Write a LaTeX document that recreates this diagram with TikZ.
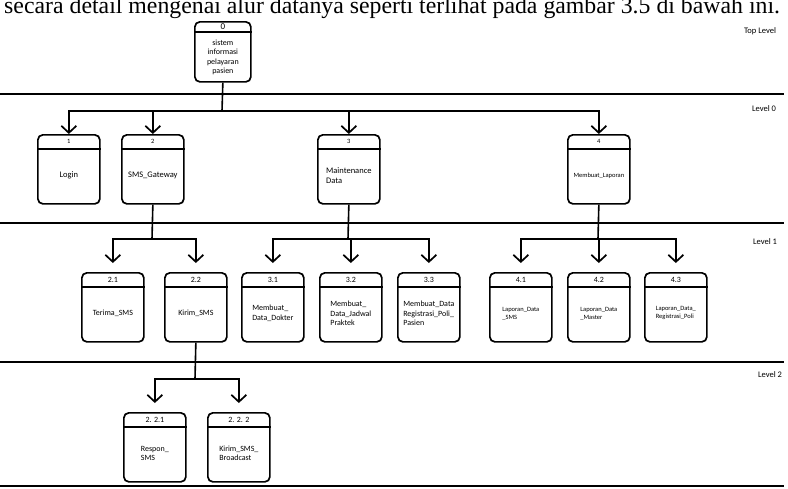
\documentclass[tikz,border=0pt]{standalone}
\usepackage{fontspec}
\setsansfont{Carlito}
\newfontfamily\serifteks{Liberation Serif}
\usetikzlibrary{arrows.meta}
\usetikzlibrary{positioning}

\tikzset{
  kotak/.style={draw, rounded corners=5pt, line width=1.7pt, minimum width=62pt,
    minimum height=69pt, anchor=north west, inner sep=0pt},
  garis/.style={line width=1.6pt},
  panah/.style={line width=1.7pt, -{Straight Barb[length=7pt,width=15pt]}},
  batas/.style={line width=2.4pt},
  nomor/.style={font={\sffamily\fontsize{8}{8}\selectfont}, inner sep=0pt},
  isi/.style={font={\sffamily\fontsize{8}{9.5}\selectfont}, align=left, inner sep=0pt},
  tingkat/.style={font={\sffamily\fontsize{8.5}{9}\selectfont}, inner sep=0pt},
}

% kotak proses: [opsi isi] nama, pojok kiri atas, nomor, isi
\newcommand{\proses}[5][]{%
  \node[kotak] (#2) at (#3) {};
  \draw[garis] ([yshift=-15pt]#2.north west) -- ([yshift=-15pt]#2.north east);
  \node[nomor] (#2no) at ([yshift=-7.5pt]#2.north) {#4};
  \node[isi,#1] (#2isi) at ([yshift=-6pt]#2.center) {#5};
}

\begin{document}
\begin{tikzpicture}[x=1pt,y=-1pt]
  \useasboundingbox (0,0) rectangle (788,488);
  \clip (0,0) rectangle (788,488);

  \node[anchor=base west, inner sep=0pt] (judul) at (4,13)
    {\serifteks\fontsize{23.8}{24}\selectfont secara detail mengenai alur datanya seperti terlihat pada gambar 3.5 di bawah ini.};

  % garis batas tiap level
  \foreach \y in {94,223,362,486}
    \draw[batas] (0,\y) -- (784,\y);

  \node[tingkat] (toplevel) at (760,31) {Top Level};
  \node[tingkat] (level0) at (764,109) {Level 0};
  \node[tingkat] (level1) at (765,242) {Level 1};
  \node[tingkat] (level2) at (770,375) {Level 2};

  % top level
  \node[kotak, minimum width=56pt, minimum height=60pt] (p0) at (194,21) {};
  \draw[garis] ([yshift=-11pt]p0.north west) -- ([yshift=-11pt]p0.north east);
  \node[nomor, font={\sffamily\fontsize{9}{9}\selectfont}] (p0no) at ([yshift=-5.5pt]p0.north) {0};
  \node[isi, align=center, font={\sffamily\fontsize{8}{9.5}\selectfont}] (p0isi) at ([yshift=-5.5pt]p0.center)
    {sistem\\informasi\\pelayaran\\pasien};

  % level 0
  \proses[font={\sffamily\fontsize{8.5}{10}\selectfont}]{p1}{37,134}{\fontsize{6.5}{6.5}\selectfont 1}{Login}
  \proses[font={\sffamily\fontsize{8.5}{10}\selectfont}]{p2}{121,134}{\fontsize{6.5}{6.5}\selectfont 2}{SMS\_Gateway}
  \proses[font={\sffamily\fontsize{8.5}{10}\selectfont}]{p3}{317,134}{\fontsize{6.5}{6.5}\selectfont 3}{Maintenance\\Data}
  \proses[font={\sffamily\fontsize{6.5}{8}\selectfont}]{p4}{567,134}{\fontsize{6.5}{6.5}\selectfont 4}{Membuat\_Laporan}

  % level 1
  \proses{p21}{81,272}{2.1}{Terima\_SMS}
  \proses{p22}{164,272}{2.2}{Kirim\_SMS}
  \proses{p31}{241,272}{3.1}{Membuat\_\\Data\_Dokter}
  \proses{p32}{319,272}{3.2}{Membuat\_\\Data\_Jadwal\\Praktek}
  \proses{p33}{397,272}{3.3}{Membuat\_Data\\Registrasi\_Poli\_\\Pasien}
  \proses[font={\sffamily\fontsize{6.5}{8}\selectfont}]{p41}{489,272}{4.1}{Laporan\_Data\\\_SMS}
  \proses[font={\sffamily\fontsize{6.5}{8}\selectfont}]{p42}{567,272}{4.2}{Laporan\_Data\\\_Master}
  \proses[font={\sffamily\fontsize{6.5}{8}\selectfont}]{p43}{644,272}{4.3}{Laporan\_Data\_\\Registrasi\_Poli}

  % level 2
  \proses{p221}{123,412}{2. 2.1}{Respon\_\\SMS}
  \proses{p222}{207,412}{2. 2. 2}{Kirim\_SMS\_\\Broadcast}

  % aliran antar level
  \coordinate (c0) at (222,111);
  \draw[garis] (p0.south) -- (c0);
  \foreach \n in {p1,p2,p3,p4}
    \draw[panah] (c0) -| (\n.north);

  \coordinate (c2) at (152,239);
  \draw[garis] (p2.south) -- (c2);
  \foreach \n in {p21,p22}
    \draw[panah, shorten >=9pt] (c2) -| (\n.north);

  \coordinate (c3) at (348,239);
  \draw[garis] (p3.south) -- (c3);
  \foreach \n in {p31,p32,p33}
    \draw[panah, shorten >=9pt] (c3) -| (\n.north);

  \coordinate (c4) at (598,239);
  \draw[garis] (p4.south) -- (c4);
  \foreach \n in {p41,p42,p43}
    \draw[panah, shorten >=9pt] (c4) -| (\n.north);

  \coordinate (c22) at (195,379);
  \draw[garis] (p22.south) -- (c22);
  \foreach \n in {p221,p222}
    \draw[panah, shorten >=9pt] (c22) -| (\n.north);
\end{tikzpicture}
\end{document}
